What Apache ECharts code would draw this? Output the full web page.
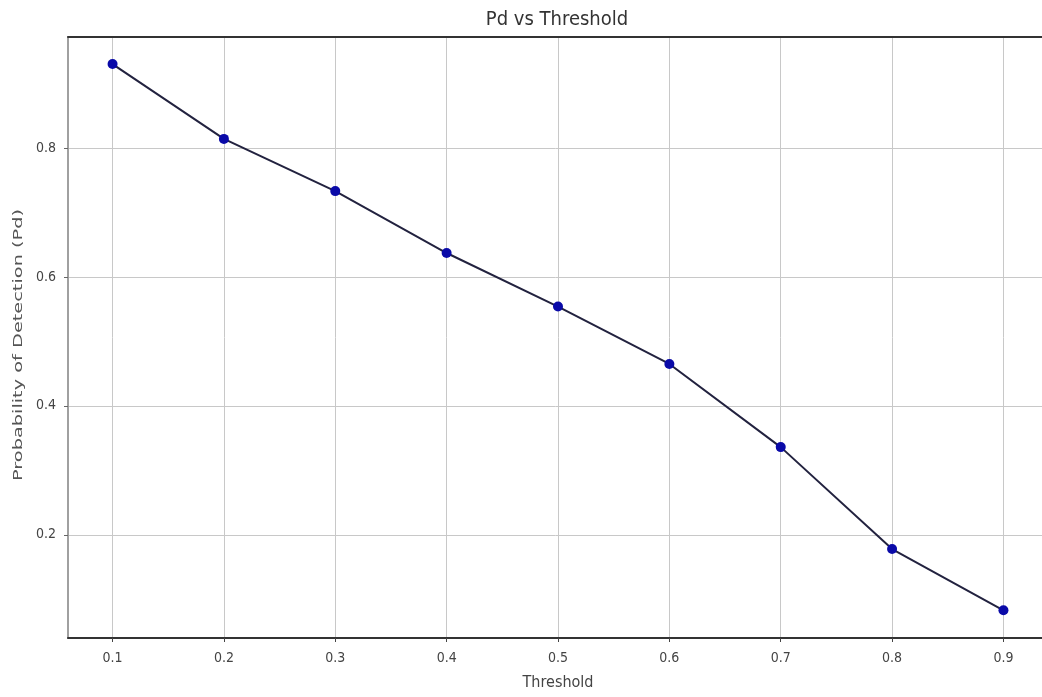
<!DOCTYPE html>
<html>
<head>
<meta charset="utf-8">
<script src="https://cdn.jsdelivr.net/npm/echarts@6/dist/echarts.min.js"></script>
<style>
  html, body { margin: 0; padding: 0; background: #fff; }
  #chart { width: 1042px; height: 697px; }
</style>
</head>
<body>
<div id="chart"></div>
<script>
// data
var thresholds = [0.1, 0.2, 0.3, 0.4, 0.5, 0.6, 0.7, 0.8, 0.9];
var pd = [0.930, 0.814, 0.733, 0.637, 0.554, 0.465, 0.336, 0.178, 0.083];
var xTicks = [0.1, 0.2, 0.3, 0.4, 0.5, 0.6, 0.7, 0.8, 0.9];
var yTicks = [0.2, 0.4, 0.6, 0.8];

var font = 'DejaVu Sans Condensed';
var points = thresholds.map(function (t, i) { return [t, pd[i]]; });

var option = {
    backgroundColor: '#fff',
    animation: false,
    title: {
        text: 'Pd vs Threshold',
        left: 552,
        textAlign: 'center',
        top: 5,
        textStyle: { fontFamily: font, fontSize: 20, fontWeight: 'normal', color: '#333' }
    },
    grid: { left: 68, top: 37, right: -6, bottom: 59, outerBoundsMode: 'none' },
    xAxis: [{
        type: 'value',
        min: 0.06,
        max: 0.94,
        name: 'Threshold',
        nameLocation: 'middle',
        nameGap: 37,
        nameTextStyle: { fontFamily: font, fontSize: 16, color: '#444' },
        axisLine: { lineStyle: { color: '#333', width: 2 } },
        axisTick: { show: true, length: 4, customValues: xTicks, lineStyle: { color: '#444' } },
        axisLabel: { customValues: xTicks, fontFamily: font, fontSize: 14, color: '#444', margin: 13,
            formatter: function (v) { return v.toFixed(1); } },
        splitLine: { show: true, lineStyle: { color: '#c8c8c8', width: 1 } }
    }, {
        type: 'value',
        position: 'top',
        min: 0.06,
        max: 0.94,
        axisLine: { show: true, lineStyle: { color: '#333', width: 2 } },
        axisTick: { show: false },
        axisLabel: { show: false },
        splitLine: { show: false }
    }],
    yAxis: {
        type: 'value',
        min: 0.04,
        max: 0.972,
        axisLine: { show: true, lineStyle: { color: '#a0a0a0', width: 2 } },
        axisTick: { show: true, length: 4, customValues: yTicks, lineStyle: { color: '#666' } },
        axisLabel: { customValues: yTicks, fontFamily: font, fontSize: 14, color: '#444', margin: 12,
            formatter: function (v) { return v.toFixed(1); } },
        splitLine: { show: true, lineStyle: { color: '#c8c8c8', width: 1 } }
    },
    graphic: [{
        // y axis title, stretched along its length like the reference
        type: 'text',
        x: 19,
        y: 345,
        rotation: Math.PI / 2,
        scaleX: 1.38,
        scaleY: 0.92,
        style: {
            text: 'Probability of Detection (Pd)',
            font: '14px "DejaVu Sans"',
            fill: '#555',
            align: 'center',
            verticalAlign: 'middle'
        }
    }],
    series: [{
        type: 'line',
        data: points,
        symbol: 'circle',
        symbolSize: 10,
        lineStyle: { color: '#22223f', width: 2 },
        itemStyle: { color: '#0a0aa8' }
    }]
};

var myChart = echarts.init(document.getElementById('chart'));
myChart.setOption(option);
</script>
</body>
</html>
